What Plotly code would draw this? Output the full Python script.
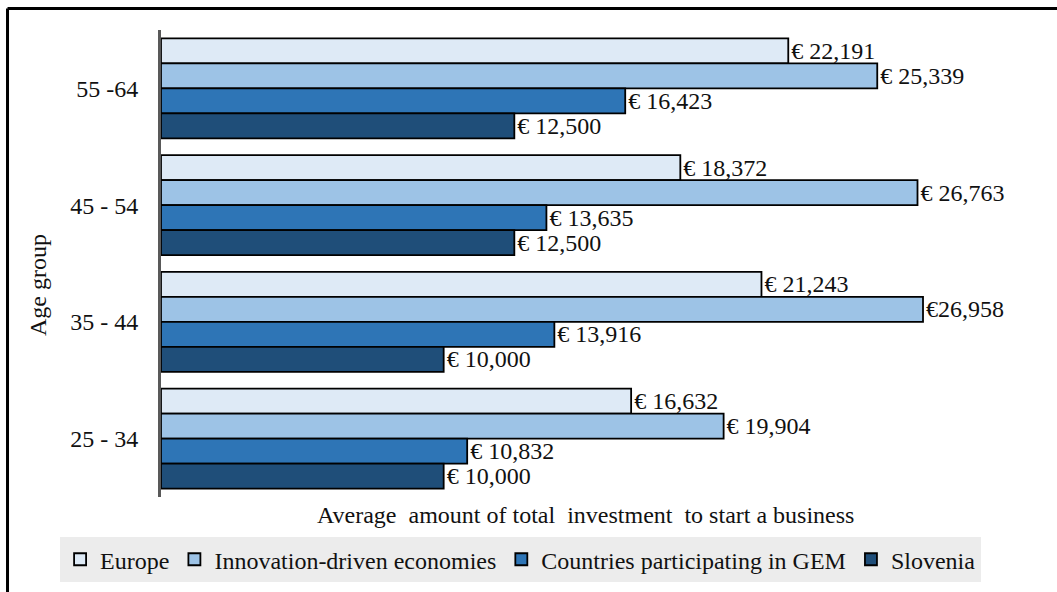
import plotly.graph_objects as go

# Age groups, top to bottom
age_groups = ["55 -64", "45 - 54", "35 - 44", "25 - 34"]

# Average investment (EUR) per series, same order as age_groups
europe = [22191, 18372, 21243, 16632]
innovation = [25339, 26763, 26958, 19904]
gem = [16423, 13635, 13916, 10832]
slovenia = [12500, 12500, 10000, 10000]

series_names = ["Europe", "Innovation-driven economies",
                "Countries participating in GEM", "Slovenia"]
series_values = [europe, innovation, gem, slovenia]
series_colors = ["#deeaf6", "#9dc3e6", "#2e75b6", "#1f4e79"]

# labels printed without the space after the euro sign
tight_labels = {("Innovation-driven economies", "35 - 44")}

FONT = '"Times New Roman", "Liberation Serif", Tinos, serif'

fig = go.Figure()
for name, vals, color in zip(series_names, series_values, series_colors):
    labels = []
    for g, v in zip(age_groups, vals):
        sep = "" if (name, g) in tight_labels else " "
        labels.append(f"€{sep}{v:,}")
    fig.add_trace(go.Bar(
        name=name,
        y=age_groups,
        x=vals,
        orientation="h",
        marker=dict(color=color, line=dict(color="#000000", width=1.8)),
        text=labels,
        textposition="outside",
        textfont=dict(family=FONT, size=24, color="#111111"),
        constraintext="none",
        cliponaxis=False,
    ))

fig.update_layout(
    width=1057,
    height=592,
    margin=dict(l=161, r=48, t=30, b=95, autoexpand=False),
    paper_bgcolor="#ffffff",
    plot_bgcolor="#ffffff",
    barmode="group",
    bargap=0.143,
    bargroupgap=0,
    font=dict(family=FONT, size=24, color="#111111"),
    showlegend=True,
    legend=dict(
        orientation="h",
        x=-0.119, xanchor="left",
        y=-0.086, yanchor="top",
        bgcolor="#ececec",
        font=dict(family=FONT, size=24, color="#111111"),
        traceorder="normal",
        itemwidth=30,
    ),
    xaxis=dict(
        range=[0, 30000],
        visible=False,
        fixedrange=True,
    ),
    yaxis=dict(
        categoryorder="array",
        categoryarray=age_groups,
        autorange="reversed",
        showline=True,
        linecolor="#595959",
        linewidth=3,
        showgrid=False,
        zeroline=False,
        ticks="",
        ticklabelstandoff=15,
        tickfont=dict(family=FONT, size=24, color="#111111"),
    ),
    annotations=[
        dict(text="Average  amount of total  investment  to start a business",
             xref="paper", yref="paper", x=0.5, y=-0.039,
             xanchor="center", yanchor="middle", showarrow=False,
             font=dict(family=FONT, size=24, color="#111111")),
        dict(text="Age group",
             xref="paper", yref="paper", x=-0.145, y=0.454,
             xanchor="center", yanchor="middle", textangle=-90,
             showarrow=False,
             font=dict(family=FONT, size=24, color="#111111")),
    ],
    shapes=[
        # frame: top and left edges
        dict(type="line", xref="paper", yref="paper",
             x0=-0.181, x1=1.07, y0=1.046, y1=1.046,
             line=dict(color="#000000", width=3)),
        dict(type="line", xref="paper", yref="paper",
             x0=-0.181, x1=-0.181, y0=1.046, y1=-0.23,
             line=dict(color="#000000", width=3)),
    ],
)

fig.write_html("out.html")
